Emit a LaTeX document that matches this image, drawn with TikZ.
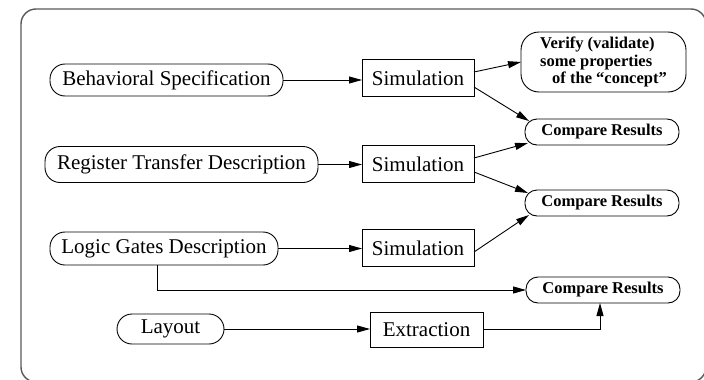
\documentclass[tikz,border=0pt]{standalone}
\usepackage{fontspec}
\setmainfont{Liberation Serif}
\usetikzlibrary{arrows.meta}
\begin{document}
\begin{tikzpicture}[x=1pt,y=-1pt,
  every node/.style={inner sep=0pt, outer sep=0pt},
  pill/.style={draw, line width=0.9pt, rounded corners=15pt,
    font=\fontsize{21}{24}\selectfont},
  result/.style={draw, line width=0.9pt, rounded corners=12pt,
    minimum width=154pt, minimum height=26pt,
    font=\fontsize{16.5}{18}\selectfont\bfseries},
  stage/.style={draw, line width=0.9pt, minimum height=37pt,
    font=\fontsize{21}{24}\selectfont},
  flow/.style={line width=0.9pt, -{Triangle[length=13pt,width=7pt]}},
  link/.style={line width=0.9pt}
]
\useasboundingbox (0,0) rectangle (704,380);
\clip (0,0) rectangle (704,380);

% outer frame
\draw[line width=1.4pt, draw=black!65, rounded corners=15pt]
  (21,9) rectangle (706,382);

% sources
\node[pill, minimum width=233pt, minimum height=32pt] (beh) at (166.5,80)
  {Behavioral Specification};
\node[pill, minimum width=273pt, minimum height=36pt] (rtl) at (181.5,164.5)
  {Register Transfer Description};
\node[pill, minimum width=228pt, minimum height=33pt] (gates) at (164,248.5)
  {Logic Gates Description};
\node[pill, minimum width=107pt, minimum height=30pt] (layout) at (170.5,329)
  {Layout};

% processing steps
\node[stage, minimum width=112pt] (sim1) at (418,78) {Simulation};
\node[stage, minimum width=112pt] (sim2) at (418,164) {Simulation};
\node[stage, minimum width=112pt] (sim3) at (418,248) {Simulation};
\node[stage, minimum width=113pt, minimum height=35pt] (extr) at (426.5,329.5) {Extraction};

% outcomes
\node[draw, line width=0.9pt, rounded corners=18pt, minimum width=165pt,
  minimum height=60pt, font=\fontsize{16.5}{17.5}\selectfont\bfseries,
  align=left] (verify) at (603.5,62)
  {Verify (validate)\\some properties\\\hspace*{12pt}of the “concept”};
\node[result] (cmp1) at (602,132) {Compare Results};
\node[result] (cmp2) at (602,203) {Compare Results};
\node[result] (cmp3) at (603,290) {Compare Results};

% connections
\draw[flow] (beh.east) -- (beh.east -| sim1.west);
\draw[flow] (rtl.east) -- (rtl.east -| sim2.west);
\draw[flow] (gates.east) -- (gates.east -| sim3.west);
\draw[flow] (layout.east) -- (layout.east -| extr.west);

\draw[flow] ([yshift=6pt]sim1.east) -- (verify.west);
\draw[flow] ([yshift=-9pt]sim1.east) -- ([xshift=4pt,yshift=-2pt]cmp1.north west);
\draw[flow] ([yshift=6pt]sim2.east) -- ([xshift=3pt,yshift=2pt]cmp1.south west);
\draw[flow] ([yshift=-8pt]sim2.east) -- ([xshift=3pt,yshift=-3pt]cmp2.north west);
\draw[flow] ([yshift=-4pt]sim3.east) -- ([xshift=4pt,yshift=1pt]cmp2.south west);

\draw[flow] ([xshift=-7pt]gates.south) |- (cmp3.west);
\draw[flow] (extr.east) -| ([xshift=-3pt]cmp3.south);
\end{tikzpicture}
\end{document}
